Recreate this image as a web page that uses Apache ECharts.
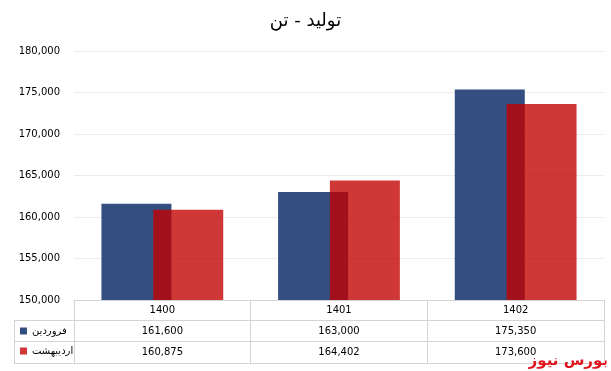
<!DOCTYPE html>
<html><head><meta charset="utf-8">
<script src="https://cdn.jsdelivr.net/npm/echarts@6/dist/echarts.min.js"></script>
<style>html,body{margin:0;padding:0;background:#fff}#c{width:611px;height:371px}</style>
</head><body><div id="c"></div>
<script>
var categories = ['1400', '1401', '1402'];
var seriesNames = ['فروردین', 'اردیبهشت'];
var farvardin = [161600, 163000, 175350];
var ordibehesht = [160875, 164402, 173600];
var yTicks = [150000, 155000, 160000, 165000, 170000, 175000, 180000];

function fmt(v){ return v.toLocaleString('en-US'); }
var F = 'DejaVu Sans';
var chart = echarts.init(document.getElementById('c'));
var lineC = '#d4d4d4';
function rowAxis(vals, off){
  return {
    type:'category', data:categories, position:'bottom', offset:off, gridIndex:0,
    axisLine:{show:false}, axisTick:{show:false},
    axisLabel:{margin:5, fontFamily:F, fontSize:10, color:'#000', formatter:function(v,i){return fmt(vals[i]);}}
  };
}
chart.setOption({
  animation:false,
  title:{text:'تولید - تن', left:'center', top:7, textStyle:{fontFamily:F, fontSize:18, fontWeight:'normal', color:'#000'}},
  grid:{left:74, right:7, top:51, bottom:71, containLabel:false},
  legend:{orient:'vertical', left:15, top:321, itemWidth:7, itemHeight:7, itemGap:10, icon:'rect', itemStyle:{opacity:1},
    textStyle:{fontFamily:F, fontSize:10, color:'#000'}, data:seriesNames, selectedMode:false},
  xAxis:[
    {type:'category', data:categories, position:'bottom',
      axisLine:{show:true, lineStyle:{color:lineC}},
      axisTick:{show:true, length:63, inside:false, lineStyle:{color:lineC}},
      axisLabel:{margin:5, fontFamily:F, fontSize:10, color:'#000'}},
    rowAxis(farvardin, 21),
    rowAxis(ordibehesht, 42)
  ],
  yAxis:{type:'value', min:yTicks[0], max:yTicks[yTicks.length-1], interval:5000,
    axisLine:{show:false}, axisTick:{show:false},
    splitLine:{lineStyle:{color:'#ececec'}},
    axisLabel:{margin:14, fontFamily:F, fontSize:10, color:'#000', formatter:function(v){return fmt(v);}}},
  series:[
    {name:seriesNames[0], type:'bar', data:farvardin, barWidth:70, barGap:'-26%', itemStyle:{color:'#334e80'}},
    {name:seriesNames[1], type:'bar', data:ordibehesht, barWidth:70, itemStyle:{color:'rgba(195,0,0,0.78)'}}
  ],
  graphic:[
    {type:'line', shape:{x1:14, y1:320.5, x2:604, y2:320.5}, style:{stroke:lineC}},
    {type:'line', shape:{x1:14, y1:341.5, x2:604, y2:341.5}, style:{stroke:lineC}},
    {type:'line', shape:{x1:14, y1:363.5, x2:604, y2:363.5}, style:{stroke:lineC}},
    {type:'line', shape:{x1:14.5, y1:320, x2:14.5, y2:364}, style:{stroke:lineC}},
    {type:'text', right:3, bottom:2, style:{text:'بورس نیوز', fill:'#e0141e', font:'bold 15px "DejaVu Sans"'}}
  ]
});
</script></body></html>
